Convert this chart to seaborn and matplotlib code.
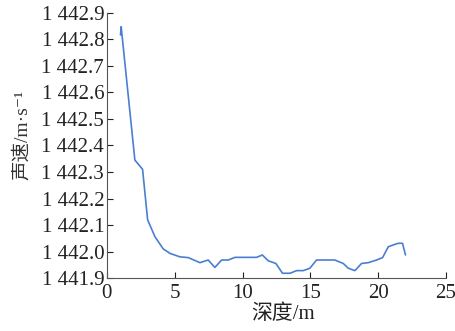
import matplotlib
matplotlib.use("Agg")
import matplotlib.pyplot as plt
import seaborn as sns
import pandas as pd

depth = [1.0, 1.05, 2.06, 2.63, 3.0, 3.54, 4.15, 4.65, 5.38, 6.0, 6.86, 7.47, 7.96,
         8.46, 8.95, 9.44, 11.04, 11.46, 11.9, 12.46, 12.95, 13.5, 13.99, 14.48,
         14.97, 15.46, 16.8, 17.43, 17.8, 18.29, 18.78, 19.27, 19.89, 20.33, 20.75,
         21.24, 21.48, 21.8, 22.02]
speed = [1442.817, 1442.848, 1442.345, 1442.31, 1442.12, 1442.056, 1442.01, 1441.993,
         1441.98, 1441.977, 1441.958, 1441.968, 1441.94, 1441.968, 1441.968, 1441.978,
         1441.978, 1441.987, 1441.965, 1441.955, 1441.918, 1441.918, 1441.928, 1441.928,
         1441.937, 1441.968, 1441.968, 1441.955, 1441.937, 1441.928, 1441.955, 1441.958,
         1441.968, 1441.977, 1442.018, 1442.027, 1442.031, 1442.031, 1441.987]
yticks = [1441.9 + 0.1 * i for i in range(11)]
ytick_labels = ["1 441.9", "1 442.0", "1 442.1", "1 442.2", "1 442.3", "1 442.4",
                "1 442.5", "1 442.6", "1 442.7", "1 442.8", "1 442.9"]
xticks = [0, 5, 10, 15, 20, 25]

sns.set_style("ticks")
plt.rcParams['font.family'] = ['Liberation Serif', 'Noto Sans CJK SC', 'DejaVu Serif']

df = pd.DataFrame({"depth": depth, "speed": speed})
fig = plt.figure(figsize=(4.55, 3.31), dpi=100)
ax = fig.add_axes([0.235, 0.160, 0.745, 0.801])
sns.lineplot(data=df, x="depth", y="speed", ax=ax, color="#4a7fd0", linewidth=1.2,
             sort=False, estimator=None)
ax.set_xlim(0, 25)
ax.set_ylim(1441.9, 1442.9)
ax.set_xticks(xticks)
ax.set_yticks(yticks)
ax.set_yticklabels(ytick_labels)
ax.tick_params(direction="in", length=4, width=0.8, labelsize=15, colors="#222222",
               pad=2)
ax.tick_params(axis="x", pad=4)
for s in ["top", "right"]:
    ax.spines[s].set_visible(False)
for s in ["left", "bottom"]:
    ax.spines[s].set_color("#555555")
ax.set_xlabel("深度/m", fontsize=15, color="#222222")
ax.set_ylabel("声速/m·s⁻¹", fontsize=14, color="#333333")
ax.xaxis.set_label_coords(0.52, -0.10)
ax.yaxis.set_label_coords(-0.225, 0.54)
fig.savefig("out.png", dpi=100)
